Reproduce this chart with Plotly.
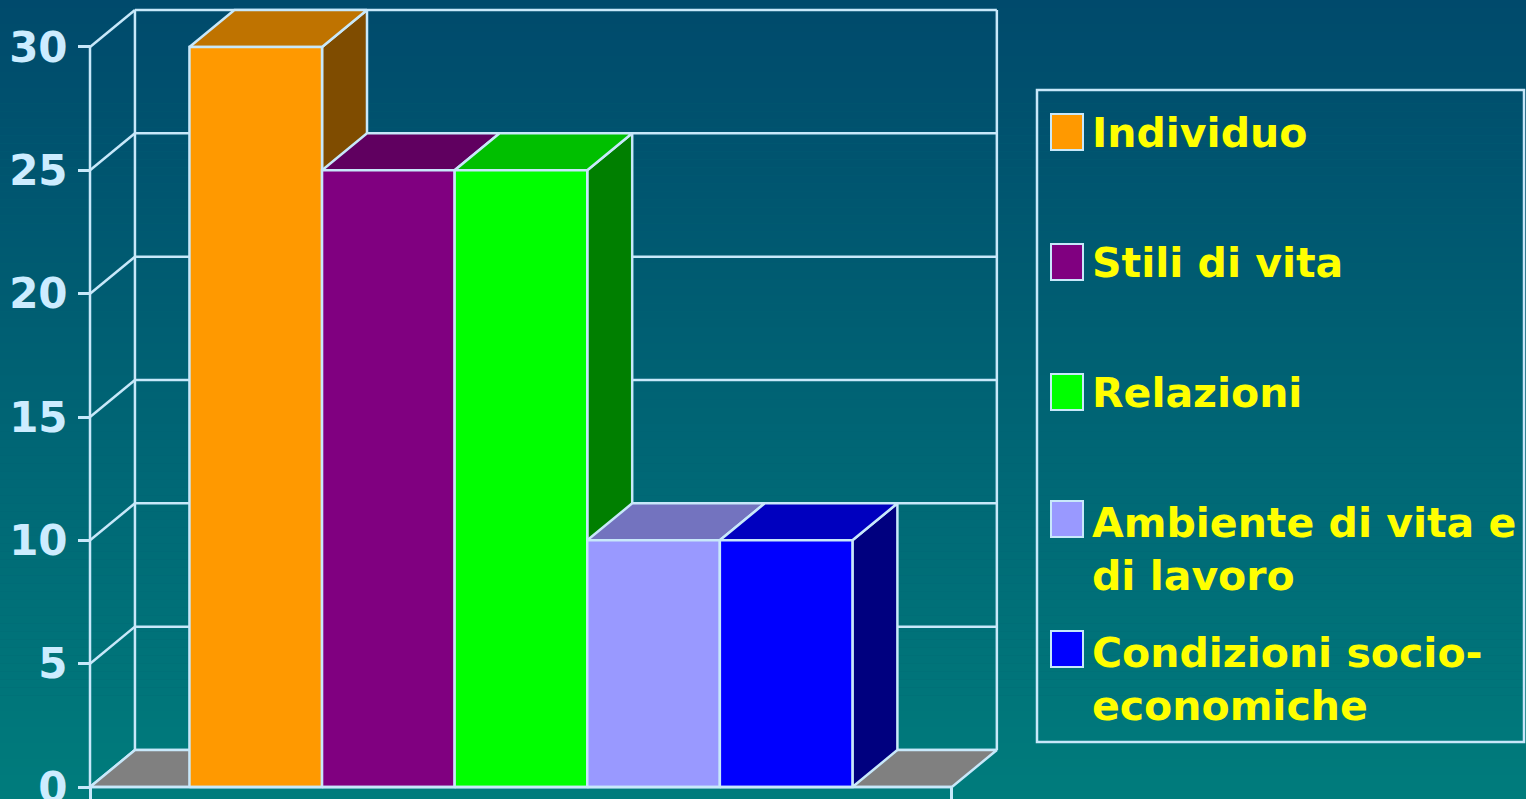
import plotly.graph_objects as go

# ---- data ----
categories = ["Individuo", "Stili di vita", "Relazioni",
              "Ambiente di vita e<br>di lavoro", "Condizioni socio-<br>economiche"]
values = [30, 25, 25, 10, 10]
front_colors = ["#FF9900", "#800080", "#00FF00", "#9999FF", "#0000FF"]
top_colors = ["#BF7300", "#600060", "#00BF00", "#7373BF", "#0000BF"]
side_colors = ["#7F4C00", "#400040", "#007F00", "#4C4C7F", "#00007F"]
y_ticks = [0, 5, 10, 15, 20, 25, 30]

# ---- geometry of the pseudo-3D box (in axis units) ----
W, H = 1526, 799
BAR_W = 1.0           # bar width
GAP = 0.75            # free floor on each side of the bar group
DX, DY = 0.339, 1.5   # depth offset of the back plane
FLOOR_W = GAP * 2 + BAR_W * len(values)
YMAX = max(y_ticks)

PX_X = 132.6          # pixels per x unit
PX_Y = 24.667         # pixels per y unit
X0_PX, Y0_PX = 90, 787

LINE = "#C8E8FA"
LW = 2.5
TICK_FONT = "#CCECFF"
TEXT = "#FFFF00"

fig = go.Figure()


def poly(xs, ys, fill, width=LW):
    fig.add_trace(go.Scatter(
        x=xs + [xs[0]], y=ys + [ys[0]], mode="lines", fill="toself",
        fillcolor=fill, line=dict(color=LINE, width=width),
        hoverinfo="skip", showlegend=False))


def seg(xs, ys, width=LW):
    fig.add_trace(go.Scatter(
        x=xs, y=ys, mode="lines", line=dict(color=LINE, width=width),
        hoverinfo="skip", showlegend=False))


# back wall gridlines
for v in y_ticks:
    seg([DX, FLOOR_W + DX], [v + DY, v + DY])
# left wall: vertical back edge and diagonal grid connectors
seg([DX, DX], [DY, YMAX + DY])
for v in y_ticks:
    seg([0, DX], [v, v + DY])
# right edge of the back wall
seg([FLOOR_W + DX, FLOOR_W + DX], [DY, YMAX + DY])

# floor
poly([0, FLOOR_W, FLOOR_W + DX, DX], [0, 0, DY, DY], "#808080")

# bars, painted left to right
for i, v in enumerate(values):
    x1 = GAP + i * BAR_W
    x2 = x1 + BAR_W
    poly([x2, x2 + DX, x2 + DX, x2], [0, DY, v + DY, v], side_colors[i])
    poly([x1, x2, x2 + DX, x1 + DX], [v, v, v + DY, v + DY], top_colors[i])
    poly([x1, x2, x2, x1], [0, 0, v, v], front_colors[i])

# front axis lines
seg([0, 0], [0, YMAX])
seg([0, FLOOR_W], [0, 0])

# ---- background gradient ----
shapes = []
top_rgb = (0, 74, 108)
bot_rgb = (0, 124, 124)
N = 100
for k in range(N):
    t = k / (N - 1)
    c = tuple(round(a + (b - a) * t) for a, b in zip(top_rgb, bot_rgb))
    shapes.append(dict(type="rect", xref="paper", yref="paper",
                       x0=0, x1=1, y0=1 - (k + 1) / N, y1=1 - k / N,
                       fillcolor=f"rgb{c}", line=dict(width=0), layer="below"))

# ---- legend (drawn as box, swatches and labels) ----
def px(xp):
    return xp / W


def py(yp):
    return 1 - yp / H


shapes.append(dict(type="rect", xref="paper", yref="paper",
                   x0=px(1037), x1=px(1524), y0=py(742), y1=py(90),
                   line=dict(color=LINE, width=2.5), fillcolor="rgba(0,0,0,0)",
                   layer="above"))

swatch_centers = [132, 262, 392, 519, 649]
label_centers = [133, 263, 393, 549, 679]
annotations = []
for i, name in enumerate(categories):
    cy = swatch_centers[i]
    shapes.append(dict(type="rect", xref="paper", yref="paper",
                       x0=px(1051), x1=px(1083), y0=py(cy + 18), y1=py(cy - 18),
                       fillcolor=front_colors[i], line=dict(color=LINE, width=2),
                       layer="above"))
    annotations.append(dict(
        xref="paper", yref="paper", x=px(1090), y=py(label_centers[i]),
        xanchor="left", yanchor="middle", align="left", showarrow=False,
        text=name, font=dict(family="DejaVu Sans", size=41, color=TEXT, weight="bold")))

fig.update_layout(
    width=W, height=H, template="none",
    margin=dict(l=0, r=0, t=0, b=0),
    paper_bgcolor="rgb(0,100,116)", plot_bgcolor="rgba(0,0,0,0)",
    shapes=shapes, annotations=annotations, showlegend=False,
    xaxis=dict(range=[-X0_PX / PX_X, (W - X0_PX) / PX_X], domain=[0, 1],
               anchor="free", position=(H - Y0_PX) / H,
               showgrid=False, zeroline=False, showline=False,
               tickvals=[0, FLOOR_W], showticklabels=False,
               ticks="outside", ticklen=12, tickwidth=2.5, tickcolor=LINE,
               fixedrange=True),
    yaxis=dict(range=[-(H - Y0_PX) / PX_Y, Y0_PX / PX_Y], domain=[0, 1],
               anchor="free", position=X0_PX / W,
               showgrid=False, zeroline=False, showline=False,
               tickvals=y_ticks, ticktext=[str(t) for t in y_ticks],
               ticks="outside", ticklen=12, tickwidth=2.5, tickcolor=LINE,
               ticklabelstandoff=2, ticklabeloverflow="allow",
               tickfont=dict(family="DejaVu Sans", size=42, color=TICK_FONT,
                             weight="bold"),
               fixedrange=True),
)

fig.write_html("out.html", config={"displayModeBar": False})
